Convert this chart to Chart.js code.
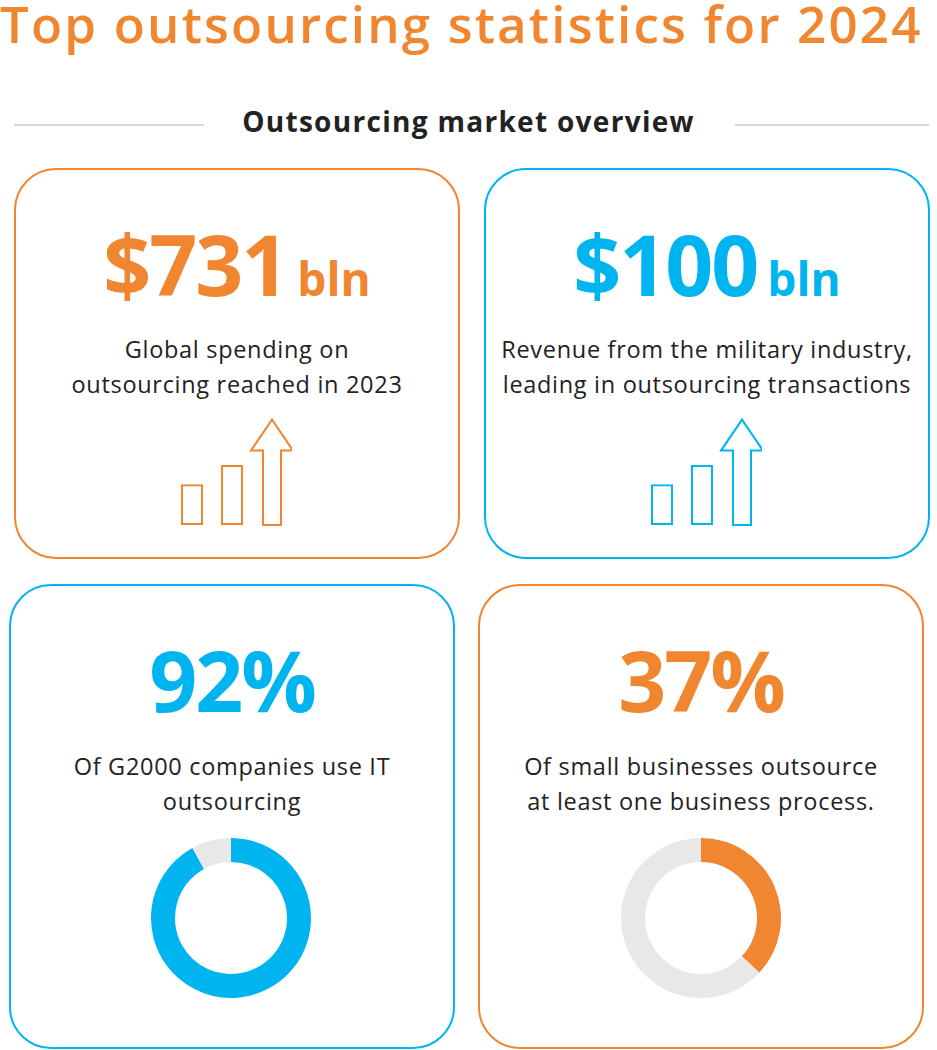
<!DOCTYPE html>
<html>
<head>
<meta charset="utf-8">
<script src="https://cdn.jsdelivr.net/npm/chart.js@4.4.1/dist/chart.umd.min.js"></script>
<style>
  body { margin: 0; width: 937px; height: 1050px; background: #fff; font-family: "Open Sans", sans-serif; position: relative; overflow: hidden; }
  .abs { position: absolute; }
  h1 { position: absolute; left: 0; top: -6px; margin: 0; font-size: 51px; font-weight: 600; color: #F0862F; letter-spacing: 2.2px; white-space: nowrap; line-height: 1.15; }
  .sub { left: 0; width: 937px; top: 102px; text-align: center; font-size: 28px; font-weight: 700; color: #222; letter-spacing: 1.3px; }
  .line { height: 2px; background: #d6d6d6; top: 124px; }
  .card { border: 2px solid; border-radius: 42px; box-sizing: border-box; }
  .big { width: 100%; text-align: center; font-weight: 700; font-size: 84px; line-height: 1; letter-spacing: -2px; }
  .big span { font-size: 46px; letter-spacing: 0; margin-left: 10px; }
  .txt { width: 100%; text-align: center; font-size: 23.5px; line-height: 35px; color: #222; letter-spacing: 0.7px; }
</style>
</head>
<body>
<h1>Top outsourcing statistics for 2024</h1>
<div class="abs line" style="left:14px;width:190px"></div>
<div class="abs line" style="left:735px;width:194px"></div>
<div class="abs sub">Outsourcing market overview</div>

<div class="abs card" style="left:14px;top:168px;width:446px;height:391px;border-color:#F0862F"></div>
<div class="abs card" style="left:484px;top:168px;width:446px;height:391px;border-color:#00B5EF"></div>
<div class="abs card" style="left:9px;top:584px;width:446px;height:465px;border-color:#00B5EF"></div>
<div class="abs card" style="left:478px;top:584px;width:446px;height:465px;border-color:#F0862F"></div>

<div class="abs big" style="left:14px;width:446px;top:222px;color:#F0862F">$731<span>bln</span></div>
<div class="abs big" style="left:484px;width:446px;top:222px;color:#00B5EF">$100<span>bln</span></div>
<div class="abs big" style="left:9px;width:446px;top:638px;color:#00B5EF">92%</div>
<div class="abs big" style="left:478px;width:446px;top:638px;color:#F0862F">37%</div>

<div class="abs txt" style="left:14px;width:446px;top:332px">Global spending on<br>outsourcing reached in 2023</div>
<div class="abs txt" style="left:484px;width:446px;top:332px">Revenue from the military industry,<br>leading in outsourcing transactions</div>
<div class="abs txt" style="left:9px;width:446px;top:749px">Of G2000 companies use IT<br>outsourcing</div>
<div class="abs txt" style="left:478px;width:446px;top:749px">Of small businesses outsource<br>at least one business process.</div>

<canvas id="icon1" class="abs" style="left:172px;top:415px;width:120px;height:112px"></canvas>
<canvas id="icon2" class="abs" style="left:642px;top:415px;width:120px;height:112px"></canvas>
<canvas id="donut1" class="abs" style="left:151px;top:838px;width:160px;height:160px"></canvas>
<canvas id="donut2" class="abs" style="left:621px;top:838px;width:160px;height:160px"></canvas>

<script>
// growth icon bar heights (last one is the arrow shaft)
const iconLabels = ['a', 'b', 'c'];
const iconValues = [40, 59, 73];
const iconMax = 106;

// donut shares
const donutLabels = ['Yes', 'No'];
const itShare = [92, 8];
const smallBizShare = [37, 63];

const ORANGE = '#F0862F';
const BLUE = '#00B5EF';
const GREY = '#E8E8E8';

// draws the arrow outline over the last bar
const arrowPlugin = {
    id: 'arrow',
    afterDatasetsDraw(chart, args, opts) {
        const bar = chart.getDatasetMeta(0).data[2];
        const ctx = chart.ctx;
        const sw = 9, hw = 21, hh = 31;
        const x = bar.x, top = bar.y, base = bar.base;
        ctx.save();
        ctx.strokeStyle = opts.color;
        ctx.lineWidth = 2;
        ctx.beginPath();
        ctx.moveTo(x - sw, base);
        ctx.lineTo(x - sw, top);
        ctx.lineTo(x - hw, top);
        ctx.lineTo(x, top - hh);
        ctx.lineTo(x + hw, top);
        ctx.lineTo(x + sw, top);
        ctx.lineTo(x + sw, base);
        ctx.closePath();
        ctx.stroke();
        ctx.restore();
    }
};

function makeIcon(id, color) {
    new Chart(document.getElementById(id), {
        type: 'bar',
        data: {
            labels: iconLabels,
            datasets: [{
                data: iconValues,
                backgroundColor: 'rgba(0,0,0,0)',
                borderColor: [color, color, 'rgba(0,0,0,0)'],
                borderWidth: 2,
                borderSkipped: false,
                barPercentage: 0.55,
                categoryPercentage: 1
            }]
        },
        options: {
            responsive: false,
            animation: false,
            layout: { padding: { top: 2, bottom: 2 } },
            plugins: { legend: { display: false }, tooltip: { enabled: false }, arrow: { color: color } },
            scales: {
                x: { display: false },
                y: { display: false, min: 0, max: iconMax }
            }
        },
        plugins: [arrowPlugin]
    });
}

function makeDonut(id, values, color) {
    new Chart(document.getElementById(id), {
        type: 'doughnut',
        data: {
            labels: donutLabels,
            datasets: [{ data: values, backgroundColor: [color, GREY], borderWidth: 0 }]
        },
        options: {
            responsive: false,
            animation: false,
            cutout: '70%',
            plugins: { legend: { display: false }, tooltip: { enabled: false } }
        }
    });
}

makeIcon('icon1', ORANGE);
makeIcon('icon2', BLUE);
makeDonut('donut1', itShare, BLUE);
makeDonut('donut2', smallBizShare, ORANGE);
</script>
</body>
</html>
